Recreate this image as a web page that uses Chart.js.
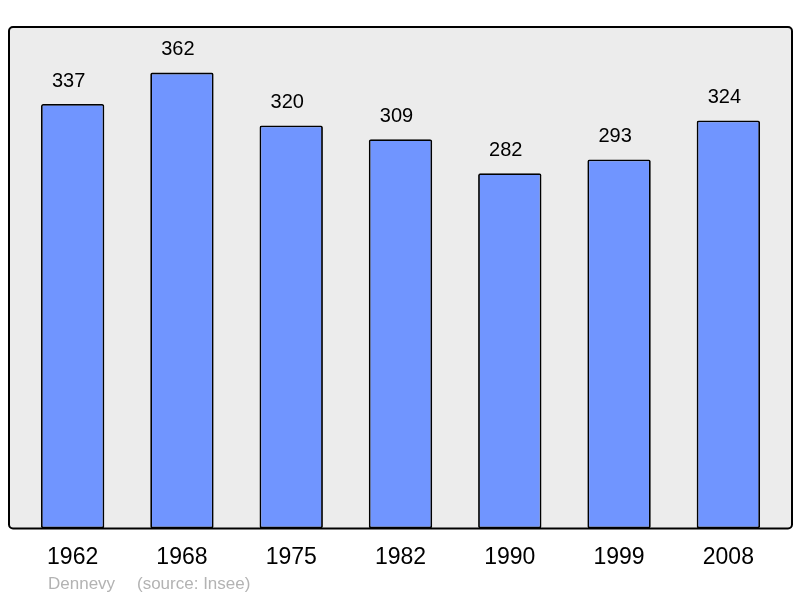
<!DOCTYPE html>
<html>
<head>
<meta charset="utf-8">
<script src="https://cdn.jsdelivr.net/npm/chart.js"></script>
<style>
  html, body { margin: 0; padding: 0; background: #fff; }
  #wrap { width: 800px; height: 598px; position: relative; }
</style>
</head>
<body>
<div id="wrap"><canvas id="popChart" width="800" height="598"></canvas></div>
<script>
// Population data (Insee)
const years = ["1962", "1968", "1975", "1982", "1990", "1999", "2008"];
const population = [337, 362, 320, 309, 282, 293, 324];

const FONT = "'Liberation Sans', Arial, sans-serif";

// Grey frame behind the bars
const framePlugin = {
  id: "frame",
  beforeDatasetsDraw(chart) {
    const { ctx, chartArea } = chart;
    const x = chartArea.left - 9, y = chartArea.top;
    const w = chartArea.right - chartArea.left + 18;
    const h = chartArea.bottom - chartArea.top;
    ctx.save();
    ctx.beginPath();
    ctx.roundRect(x, y, w, h, 4);
    ctx.fillStyle = "#ececec";
    ctx.fill();
    ctx.restore();
  },
  afterDatasetsDraw(chart) {
    const { ctx, chartArea } = chart;
    const x = chartArea.left - 9, y = chartArea.top;
    const w = chartArea.right - chartArea.left + 18;
    const h = chartArea.bottom - chartArea.top;
    ctx.save();
    ctx.beginPath();
    ctx.roundRect(x, y, w, h, 4);
    ctx.lineWidth = 2;
    ctx.strokeStyle = "#000";
    ctx.stroke();

    // value labels above bars
    ctx.font = "20px " + FONT;
    ctx.fillStyle = "#000";
    ctx.textAlign = "center";
    ctx.textBaseline = "middle";
    chart.getDatasetMeta(0).data.forEach((bar, i) => {
      ctx.fillText(population[i], bar.x - 4, bar.y - 23);
    });

    // footer
    ctx.font = "17px " + FONT;
    ctx.fillStyle = "#b3b3b3";
    ctx.textAlign = "left";
    ctx.fillText("Dennevy", 48, 584);
    ctx.fillText("(source: Insee)", 137, 584);
    ctx.restore();
  },
};

new Chart(document.getElementById("popChart"), {
  type: "bar",
  data: {
    labels: years,
    datasets: [
      {
        data: population,
        backgroundColor: "#7095ff",
        borderColor: "#000",
        borderWidth: 1.8,
        borderRadius: 2,
        borderSkipped: false,
        barPercentage: 0.58,
        categoryPercentage: 1,
      },
    ],
  },
  options: {
    responsive: false,
    animation: false,
    layout: { padding: { left: 18, right: 17, top: 27, bottom: 12 } },
    plugins: { legend: { display: false }, tooltip: { enabled: false } },
    scales: {
      y: { display: false, min: 0, max: 398.2 },
      x: {
        grid: { display: false, drawTicks: false },
        border: { display: false },
        ticks: {
          color: "#000",
          padding: 15,
          font: { family: FONT, size: 23 },
        },
      },
    },
  },
  plugins: [framePlugin],
});
</script>
</body>
</html>
